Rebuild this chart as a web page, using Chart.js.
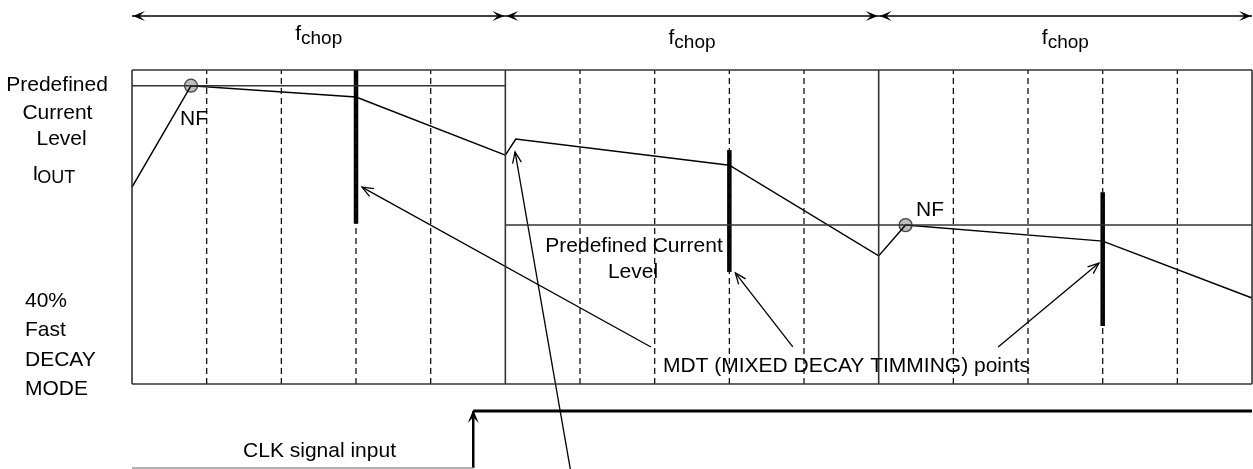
<!DOCTYPE html>
<html>
<head>
<meta charset="utf-8">
<script src="https://cdn.jsdelivr.net/npm/chart.js@4/dist/chart.umd.min.js"></script>
<style>
  html, body { margin: 0; padding: 0; background: #ffffff; overflow: hidden; }
  canvas { display: block; }
</style>
</head>
<body>
<canvas id="c" width="1253" height="469"></canvas>
<script>
// ---- data (time in 1/5 chop-period units, current in % of box height) ----
const chopBounds = [0, 5, 10, 15];
const dashTimes = [1, 2, 3, 4, 6, 7, 8, 9, 11, 12, 13, 14];
const boxTop = 100;
const boxBottom = 0;
const level1 = 95;          // predefined current level, 1st period
const level2 = 50.6;        // predefined current level, 2nd & 3rd periods
const currentT = [0, 0.79, 3, 5, 5.14, 8, 10, 10.36, 13, 15];
const currentI = [62.7, 95, 91.4, 72.9, 78.0, 69.7, 40.8, 50.6, 45.5, 27.4];
const nfT = [0.79, 10.36];
const nfI = [95, 50.6];
const mdtT = [3, 8, 13];
const mdtTop = [100, 74.5, 61.1];
const mdtBottom = [51, 35.7, 18.5];
const clkEdge = 4.57;
const clkLow = -26.75;
const clkHigh = -8.6;
const spanY = 117.2;
const arrowFromT = [6.95, 8.85, 11.6, 5.87];
const arrowFromI = [11.8, 11.8, 11.8, -27.1];
const arrowToT = [3.08, 8.08, 12.95, 5.13];
const arrowToI = [62.7, 35.4, 38.5, 73.9];

// ---- text labels ----
const chopLabelY = [109.6, 108.3, 108.3];
const leftLabels = [
  { t: 'Predefined', x: -1.004, y: 93.3, a: 'center' },
  { t: 'Current', x: -0.999, y: 84.55, a: 'center' },
  { t: 'Level', x: -0.943, y: 76.1, a: 'center' },
  { t: '40%', x: -1.433, y: 24.5, a: 'left' },
  { t: 'Fast', x: -1.433, y: 15.3, a: 'left' },
  { t: 'DECAY', x: -1.433, y: 5.7, a: 'left' },
  { t: 'MODE', x: -1.433, y: -3.5, a: 'left' },
  { t: 'CLK signal input', x: 2.511, y: -23.25, a: 'center' },
  { t: 'NF', x: 0.643, y: 82.5, a: 'left' },
  { t: 'NF', x: 10.5, y: 53.5, a: 'left' },
  { t: 'Predefined Current', x: 6.723, y: 42.0, a: 'center' },
  { t: 'Level', x: 6.71, y: 33.7, a: 'center' },
  { t: 'MDT (MIXED DECAY TIMMING) points', x: 7.11, y: 3.8, a: 'left' }
];
const ioutPos = { x: -1.334, y: 65.0 };

const FONT = '"Liberation Sans", Arial, Helvetica, sans-serif';
const BOX = '#333333';

function seg(x1, y1, x2, y2, color, width, dash) {
  return {
    data: [{ x: x1, y: y1 }, { x: x2, y: y2 }],
    showLine: true, borderColor: color, borderWidth: width,
    borderDash: dash || [], pointRadius: 0, fill: false
  };
}

const datasets = [];
// box outline & period separators
datasets.push(seg(chopBounds[0], boxTop, chopBounds[3], boxTop, BOX, 1.6));
datasets.push(seg(chopBounds[0], boxBottom, chopBounds[3], boxBottom, BOX, 1.6));
chopBounds.forEach(b => datasets.push(seg(b, boxBottom, b, boxTop, BOX, 1.6)));
// dashed sub-divisions
dashTimes.forEach(t => datasets.push(seg(t, boxBottom, t, boxTop, '#111111', 1.3, [6, 4])));
// predefined levels
datasets.push(seg(chopBounds[0], level1, chopBounds[1], level1, BOX, 1.5));
datasets.push(seg(chopBounds[1], level2, chopBounds[3], level2, BOX, 1.5));
// current waveform
datasets.push({
  data: currentT.map((t, i) => ({ x: t, y: currentI[i] })),
  showLine: true, borderColor: '#000000', borderWidth: 1.5, pointRadius: 0, tension: 0
});
// MDT bars
mdtT.forEach((t, i) => datasets.push(seg(t, mdtBottom[i], t, mdtTop[i], '#000000', 4.5)));
// callout arrow shafts
arrowFromT.forEach((t, i) => datasets.push(seg(t, arrowFromI[i], arrowToT[i], arrowToI[i], '#000000', 1.3)));
// top chop spans
for (let i = 0; i < chopBounds.length - 1; i++) {
  datasets.push(seg(chopBounds[i], spanY, chopBounds[i + 1], spanY, '#000000', 1.3));
}
// CLK signal
datasets.push(seg(chopBounds[0], clkLow, clkEdge, clkLow, '#9a9a9a', 1.5));
datasets.push(seg(clkEdge, clkLow, clkEdge, clkHigh, '#000000', 2.5));
datasets.push(seg(clkEdge, clkHigh, chopBounds[3], clkHigh, '#000000', 3));
// NF points
datasets.push({
  data: nfT.map((t, i) => ({ x: t, y: nfI[i] })),
  showLine: false, pointRadius: 6.5, pointHoverRadius: 6.5, pointBackgroundColor: '#bdbdbd',
  pointBorderColor: '#444444', pointBorderWidth: 1.3
});

function headOpen(ctx, x1, y1, x2, y2, len, spread) {
  const a = Math.atan2(y2 - y1, x2 - x1);
  ctx.beginPath();
  ctx.moveTo(x2 - len * Math.cos(a - spread), y2 - len * Math.sin(a - spread));
  ctx.lineTo(x2, y2);
  ctx.lineTo(x2 - len * Math.cos(a + spread), y2 - len * Math.sin(a + spread));
  ctx.stroke();
}
function headFilled(ctx, x1, y1, x2, y2, len, half) {
  const a = Math.atan2(y2 - y1, x2 - x1);
  const c = Math.cos(a), s = Math.sin(a);
  const bx = x2 - len * c, by = y2 - len * s;
  const ix = x2 - len * 0.55 * c, iy = y2 - len * 0.55 * s;
  ctx.beginPath();
  ctx.moveTo(x2, y2);
  ctx.lineTo(bx - half * s, by + half * c);
  ctx.lineTo(ix, iy);
  ctx.lineTo(bx + half * s, by - half * c);
  ctx.closePath();
  ctx.fill();
}

const decor = {
  id: 'decor',
  afterDatasetsDraw(chart) {
    const ctx = chart.ctx;
    const xs = chart.scales.x, ys = chart.scales.y;
    const px = v => xs.getPixelForValue(v);
    const py = v => ys.getPixelForValue(v);
    ctx.save();
    ctx.strokeStyle = '#000'; ctx.fillStyle = '#000'; ctx.lineWidth = 1.3;
    // callout arrow heads
    arrowFromT.forEach((t, i) => {
      headOpen(ctx, px(t), py(arrowFromI[i]), px(arrowToT[i]), py(arrowToI[i]), 12, 0.38);
    });
    // chop span arrow heads
    for (let i = 0; i < chopBounds.length - 1; i++) {
      const a = px(chopBounds[i]) + 1, b = px(chopBounds[i + 1]) - 1, y = py(spanY);
      headFilled(ctx, b, y, a, y, 12, 5);
      headFilled(ctx, a, y, b, y, 12, 5);
    }
    // CLK arrow head
    headFilled(ctx, px(clkEdge), py(clkLow), px(clkEdge), py(clkHigh) - 1, 13, 5.5);

    // texts
    ctx.fillStyle = '#000';
    ctx.textBaseline = 'alphabetic';
    ctx.font = '21px ' + FONT;
    leftLabels.forEach(l => {
      ctx.textAlign = l.a;
      ctx.fillText(l.t, px(l.x), py(l.y));
    });
    // f_chop labels
    for (let i = 0; i < chopBounds.length - 1; i++) {
      const cx = px((chopBounds[i] + chopBounds[i + 1]) / 2);
      const by = py(chopLabelY[i]);
      ctx.font = '21px ' + FONT;
      const fw = ctx.measureText('f').width;
      ctx.font = '19px ' + FONT;
      const sw = ctx.measureText('chop').width;
      const x0 = cx - (fw + sw) / 2;
      ctx.textAlign = 'left';
      ctx.font = '21px ' + FONT;
      ctx.fillText('f', x0, by);
      ctx.font = '19px ' + FONT;
      ctx.fillText('chop', x0 + fw, by + 4);
    }
    // I_OUT
    ctx.textAlign = 'left';
    ctx.font = '21px ' + FONT;
    const ix = px(ioutPos.x), iy = py(ioutPos.y);
    ctx.fillText('I', ix, iy);
    const iw = ctx.measureText('I').width;
    ctx.font = '18px ' + FONT;
    ctx.fillText('OUT', ix + iw - 1, iy + 3);
    ctx.restore();
  }
};

new Chart(document.getElementById('c'), {
  type: 'scatter',
  data: { datasets },
  options: {
    responsive: false,
    animation: false,
    devicePixelRatio: 1,
    layout: { padding: 0, autoPadding: false },
    plugins: { legend: { display: false }, tooltip: { enabled: false }, title: { display: false } },
    elements: { line: { tension: 0 } },
    scales: {
      x: { type: 'linear', display: false, min: -1.768, max: 15.013 },
      y: { type: 'linear', display: false, min: -27.07, max: 122.29 }
    }
  },
  plugins: [decor]
});
</script>
</body>
</html>
